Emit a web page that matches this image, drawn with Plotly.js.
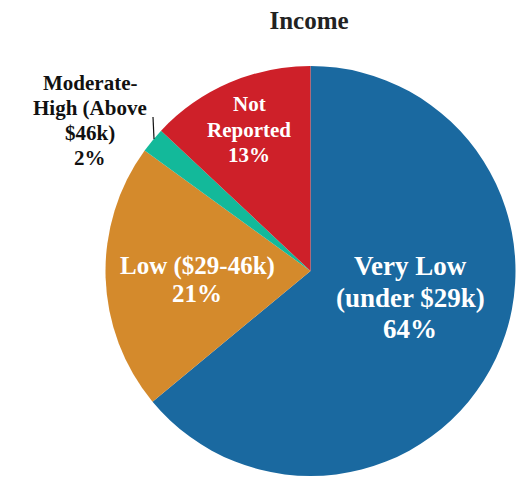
<!DOCTYPE html>
<html>
<head>
<meta charset="utf-8">
<script src="https://cdn.plot.ly/plotly-3.0.1.min.js"></script>
<style>html,body{margin:0;padding:0;background:#fff;}#chart{width:526px;height:478px;}</style>
</head>
<body>
<div id="chart"></div>
<script>
var categories = ["Very Low (under $29k)", "Low ($29-46k)", "Moderate-High (Above $46k)", "Not Reported"];
var values = [64, 21, 2, 13];
var colors = ["#1a69a0", "#d48a2c", "#13b99a", "#ce2029"];
var labelLines = [
  ["Very Low", "(under $29k)", "64%"],
  ["Low ($29-46k)", "21%"],
  ["Moderate-", "High (Above", "$46k)", "2%"],
  ["Not", "Reported", "13%"]
];

var W = 526, H = 478;
function py(p) { return (H - p) / H; }
function px(p) { return p / W; }
var SERIF = "Liberation Serif";

// label layout (pixel positions of text lines)
var labelPos = [
  {x: 410, y0: 266, dy: 31.5, size: 27, color: "#ffffff"},
  {x: 197, y0: 265.5, dy: 28, size: 25, color: "#ffffff"},
  {x: 90, y0: 83, dy: 25, size: 21, color: "#111111"},
  {x: 249, y0: 104, dy: 25.5, size: 21, color: "#ffffff"}
];

var annotations = [];
labelLines.forEach(function (lines, i) {
  var p = labelPos[i];
  lines.forEach(function (t, j) {
    annotations.push({
      text: "<b>" + t + "</b>", xref: "paper", yref: "paper",
      x: px(p.x), y: py(p.y0 + j * p.dy),
      xanchor: "center", yanchor: "middle", showarrow: false,
      font: {family: SERIF, size: p.size, color: p.color}
    });
  });
});

var cx = 310.5, cy = 271, r = 205;
var data = [{
  type: "pie",
  labels: categories,
  values: values,
  sort: false,
  direction: "clockwise",
  rotation: 0,
  textinfo: "none",
  hoverinfo: "label+percent",
  marker: {colors: colors, line: {width: 0}},
  domain: {x: [px(cx - r), px(cx + r)], y: [py(cy + r), py(cy - r)]}
}];

var layout = {
  width: W, height: H,
  margin: {l: 0, r: 0, t: 0, b: 0},
  paper_bgcolor: "#ffffff",
  showlegend: false,
  font: {family: SERIF},
  title: {
    text: "<b>Income</b>",
    x: px(309), xanchor: "center",
    y: py(20.5), yanchor: "middle",
    xref: "paper", yref: "paper",
    font: {family: SERIF, size: 25, color: "#222222"}
  },
  annotations: annotations,
  shapes: [{
    type: "line", xref: "paper", yref: "paper",
    x0: px(153), y0: py(117), x1: px(154), y1: py(139),
    line: {color: "#111111", width: 1.2}
  }]
};

Plotly.newPlot("chart", data, layout, {displayModeBar: false, staticPlot: true});
</script>
</body>
</html>
